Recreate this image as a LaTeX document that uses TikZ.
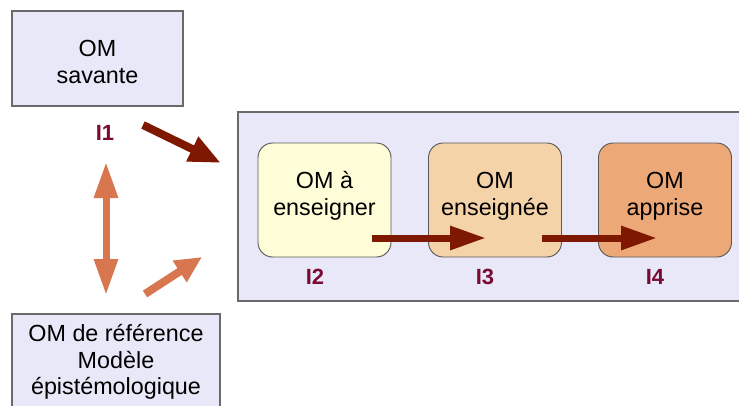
\documentclass[tikz,border=0pt]{standalone}
\usepackage{fontspec}
\setmainfont{Liberation Sans}
\usetikzlibrary{arrows.meta}
\definecolor{lav}{HTML}{E8E8F8}
\definecolor{lavline}{HTML}{6A6A6A}
\definecolor{yel}{HTML}{FFFDD8}
\definecolor{peach}{HTML}{F5D3A8}
\definecolor{orng}{HTML}{EDA878}
\definecolor{maroon}{HTML}{7A0A30}
\definecolor{brn}{HTML}{7F1800}
\definecolor{orarrow}{HTML}{D8774F}
\tikzset{
  lavbox/.style={draw=lavline, fill=lav, line width=0.8pt, inner sep=0pt, align=center,
    font=\fontsize{17.5}{20}\selectfont},
  roundbox/.style={draw=black!65, fill=#1, line width=0.7pt, rounded corners=11pt,
    minimum width=99.75pt, minimum height=85.5pt, inner sep=0pt},
  boxtext/.style={align=center, font=\fontsize{17.5}{20}\selectfont, inner sep=0pt},
  ilabel/.style={text=maroon, font=\fontsize{16.5}{18}\selectfont\bfseries, inner sep=0pt},
  brownarrow/.style={draw=brn, line width=5.25pt, -{Triangle[length=27pt,width=17pt]}},
  orangearrow/.style={draw=orarrow, line width=5.25pt},
}
\begin{document}
\begin{tikzpicture}[x=0.75pt,y=-0.75pt]
\useasboundingbox (0,0) rectangle (739,405);
\clip (0,0) rectangle (739,405);
% container
\node[draw=lavline, fill=lav, line width=0.8pt, minimum width=391.5pt, minimum height=141.75pt, inner sep=0pt] (cont) at (499,206.5) {};
% left boxes
\node[lavbox, minimum width=128.25pt, minimum height=71.25pt] (sav) at (97.5,58.5) {};
\node[boxtext] (savt) at (97.5,62) {OM\\savante};
\node[lavbox, minimum width=156pt, minimum height=72pt] (ref) at (116,362) {OM de référence\\Modèle\\épistémologique};
% inner boxes
\node[roundbox=yel] (b1) at (324.5,200) {};
\node[roundbox=peach] (b2) at (495,200) {};
\node[roundbox=orng] (b3) at (665,200) {};
\node[boxtext] (t1) at (324.5,196) {OM à\\enseigner};
\node[boxtext] (t2) at (495,196) {OM\\enseignée};
\node[boxtext] (t3) at (665,196) {OM\\apprise};
% labels
\node[ilabel] (i1) at (105,133) {I1};
\node[ilabel] (i2) at (315,277) {I2};
\node[ilabel] (i3) at (485,277) {I3};
\node[ilabel] (i4) at (655,277) {I4};
% arrow coordinates
\coordinate (a1s) at (372,238);
\coordinate (a1e) at (486,238);
\coordinate (a2s) at (542,238);
\coordinate (a2e) at (657,238);
\coordinate (l1s) at (143,125);
\coordinate (l1e) at (221,163);
\coordinate (d1) at (106,162);
\coordinate (d2) at (106,295);
\coordinate (o1s) at (145,294);
\coordinate (o1e) at (202,257);
% arrows
\draw[brownarrow] (a1s) -- (a1e);
\draw[brownarrow] (a2s) -- (a2e);
\draw[draw=brn, line width=6pt, -{Triangle[length=24pt,width=19pt]}] (l1s) -- (l1e);
\draw[orangearrow, {Triangle[length=27pt,width=17pt]}-{Triangle[length=27pt,width=17pt]}] (d1) -- (d2);
\draw[orangearrow, line width=6pt, -{Triangle[length=20pt,width=18pt]}] (o1s) -- (o1e);
\end{tikzpicture}
\end{document}
